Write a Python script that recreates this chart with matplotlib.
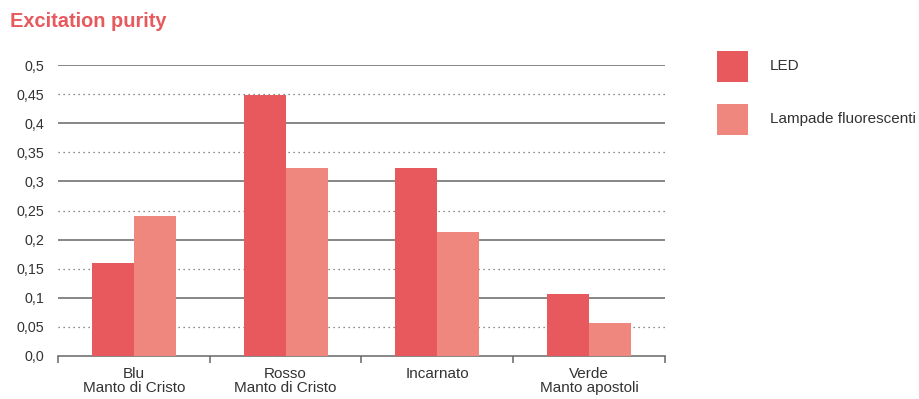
import matplotlib.pyplot as plt
import numpy as np
from matplotlib.patches import Rectangle

plt.rcParams['font.family'] = ['Liberation Sans', 'DejaVu Sans']

categorie = ["Blu\nManto di Cristo", "Rosso\nManto di Cristo", "Incarnato", "Verde\nManto apostoli"]
led = [0.16, 0.448, 0.323, 0.107]
fluorescenti = [0.241, 0.323, 0.213, 0.057]
serie = ["LED", "Lampade fluorescenti"]
tick_y = [0.0, 0.05, 0.1, 0.15, 0.2, 0.25, 0.3, 0.35, 0.4, 0.45, 0.5]
tick_y_txt = ["0,0", "0,05", "0,1", "0,15", "0,2", "0,25", "0,3", "0,35", "0,4", "0,45", "0,5"]

col_led = "#e8595e"
col_fluo = "#f0877f"
col_griglia = "#666666"

fig = plt.figure(figsize=(9.19, 3.99), dpi=100)
ax = fig.add_axes([0.0631, 0.1078, 0.6605, 0.7292])

x = np.arange(len(categorie)) + 0.5
w = 0.277
ax.bar(x - w / 2, led, w, color=col_led, zorder=3)
ax.bar(x + w / 2, fluorescenti, w, color=col_fluo, zorder=3)

ax.set_xlim(0, len(categorie))
ax.set_ylim(0, 0.5)

# linee orizzontali: piene ogni 0,1, punteggiate a metà
for i, v in enumerate(tick_y):
    if i == 0:
        continue
    if i % 2 == 0:
        ax.axhline(v, color=col_griglia, lw=1.1, zorder=1)
    else:
        ax.axhline(v, color=col_griglia, lw=0.9, ls=(0, (1, 3)), zorder=1)

ax.set_yticks(tick_y)
ax.set_yticklabels(tick_y_txt, fontsize=10.3, color="#333333")
ax.tick_params(axis="y", length=0, pad=10)

ax.set_xticks(x)
ax.set_xticklabels(categorie, fontsize=11, color="#333333", linespacing=1.0)
ax.tick_params(axis="x", which="major", length=0, pad=8)
ax.set_xticks(np.arange(len(categorie) + 1), minor=True)
ax.tick_params(axis="x", which="minor", length=5, width=1.1, color=col_griglia, direction="out")

for s in ["top", "right", "left"]:
    ax.spines[s].set_visible(False)
ax.spines["bottom"].set_color(col_griglia)
ax.spines["bottom"].set_linewidth(1.1)

fig.text(0.011, 0.945, "Excitation purity", fontsize=14.4, fontweight="bold", color=col_led, va="center")

# legenda a destra
for i, (nome, c) in enumerate(zip(serie, [col_led, col_fluo])):
    y0 = 1 - (82 + i * 53) / 399
    fig.patches.append(Rectangle((717 / 919, y0), 31 / 919, 31 / 399, transform=fig.transFigure,
                                 facecolor=c, edgecolor="none"))
    fig.text(770 / 919, y0 + 15.5 / 399, nome, fontsize=11, color="#333333", va="center")

plt.savefig("out.png", dpi=100)
plt.close()
